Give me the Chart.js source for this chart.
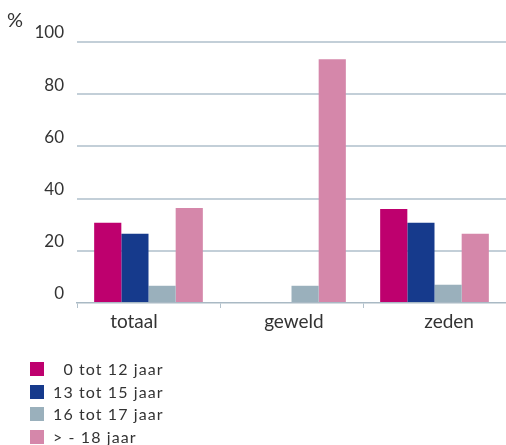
<!DOCTYPE html>
<html>
<head>
<meta charset="utf-8">
<script src="https://cdn.jsdelivr.net/npm/chart.js@4"></script>
<style>
  html, body { margin: 0; padding: 0; background: #ffffff; }
  #wrap { position: relative; width: 506px; height: 445px; }
  #legend { position: absolute; left: 30px; top: 358px; font-family: Lato, "Open Sans", sans-serif; font-size: 16px; letter-spacing: 1.1px; color: #333333; }
  .item { height: 22.5px; line-height: 22.5px; display: flex; align-items: center; white-space: pre; }
  .sw { width: 14px; height: 14px; margin-right: 9px; flex: none; }
</style>
</head>
<body>
<div id="wrap">
  <canvas id="c" width="506" height="445"></canvas>
  <div id="legend"></div>
</div>
<script>
const categories = ["totaal", "geweld", "zeden"];
const seriesNames = ["  0 tot 12 jaar", "13 tot 15 jaar", "16 tot 17 jaar", "> - 18 jaar"];
const age0to12 = [30.7, null, 36.0];
const age13to15 = [26.5, null, 30.7];
const age16to17 = [6.6, 6.6, 7.0];
const age18plus = [36.4, 93.4, 26.5];
const yTicks = [0, 20, 40, 60, 80, 100];
const colors = ["#be006e", "#163a8c", "#9ab0bc", "#d587aa"];

const seriesValues = [age0to12, age13to15, age16to17, age18plus];
// the source chart's category labels sit slightly off-centre; emulate with padding spaces
const labelPad = [["", "      "], [" ", ""], ["      ", ""]];

const percentPlugin = {
  id: 'percentLabel',
  afterDraw(chart) {
    const ctx = chart.ctx;
    ctx.save();
    ctx.font = '20px Lato, "Open Sans", sans-serif';
    ctx.fillStyle = '#333333';
    ctx.textBaseline = 'middle';
    ctx.textAlign = 'left';
    ctx.fillText('%', 7, 21);
    ctx.restore();
  }
};

new Chart(document.getElementById('c'), {
  type: 'bar',
  data: {
    labels: categories,
    datasets: seriesValues.map((vals, i) => ({
      label: seriesNames[i],
      data: vals,
      backgroundColor: colors[i],
      borderWidth: 0,
      barPercentage: 1.0,
      categoryPercentage: 0.76
    }))
  },
  options: {
    responsive: false,
    animation: false,
    devicePixelRatio: 1,
    layout: { padding: { top: 42, right: 0, bottom: 112, left: 0 } },
    plugins: {
      legend: { display: false },
      tooltip: { enabled: false },
      title: { display: false }
    },
    scales: {
      x: {
        grid: {
          offset: true,
          drawOnChartArea: false,
          drawTicks: true,
          tickLength: 5,
          color: '#b3c2cc',
          lineWidth: 1
        },
        border: { display: true, color: '#a9b9c4', width: 1.5 },
        ticks: {
          color: '#333333',
          font: { family: 'Lato, "Open Sans", sans-serif', size: 19 },
          padding: 2,
          callback: (v, i) => labelPad[i][0] + categories[i] + labelPad[i][1]
        },
        afterFit(scale) { scale.height = 30; }
      },
      y: {
        min: 0,
        max: 100,
        afterBuildTicks(scale) { scale.ticks = yTicks.map(v => ({ value: v })); },
        grid: {
          drawTicks: false,
          color: (c) => c.tick && c.tick.value === 0 ? 'rgba(0,0,0,0)' : '#c3cfd8',
          lineWidth: 2
        },
        border: { display: false },
        ticks: {
          color: '#333333',
          font: { family: 'Lato, "Open Sans", sans-serif', size: 17 },
          padding: 13,
          labelOffset: -9
        },
        afterFit(scale) { scale.width = 77; }
      }
    }
  },
  plugins: [percentPlugin]
});

const legend = document.getElementById('legend');
seriesNames.forEach((name, i) => {
  const row = document.createElement('div');
  row.className = 'item';
  const sw = document.createElement('span');
  sw.className = 'sw';
  sw.style.background = colors[i];
  const tx = document.createElement('span');
  tx.textContent = name;
  row.appendChild(sw);
  row.appendChild(tx);
  legend.appendChild(row);
});
</script>
</body>
</html>
